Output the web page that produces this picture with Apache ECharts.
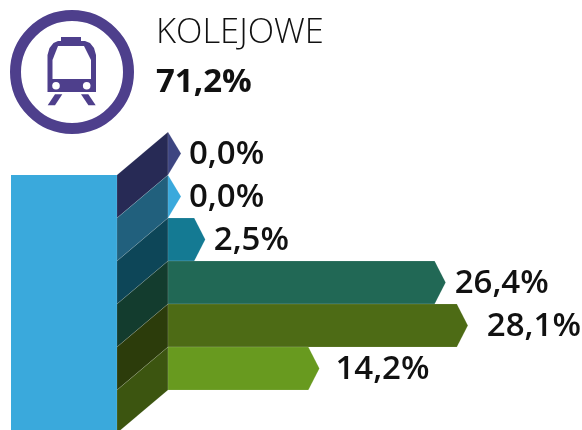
<!DOCTYPE html>
<html><head><meta charset="utf-8">
<style>html,body{margin:0;padding:0;background:#fff}#c{width:582px;height:430px}</style>
<script src="https://cdn.jsdelivr.net/npm/echarts@6/dist/echarts.min.js"></script></head>
<body><div id="c"></div>
<script>
const categories = ['a','b','c','d','e','f'];
const valueLabels = ['0,0%','0,0%','2,5%','26,4%','28,1%','14,2%'];
const barLengths = [0.0, 0.0, 2.6, 26.4, 28.6, 13.9];
const title = 'KOLEJOWE';
const totalLabel = '71,2%';
const barColors = ['#3d4581','#3aa9dc','#147a93','#216855','#4d6b15','#689a1f'];
const sideColors = ['#272a55','#21607d','#0d4658','#133c2e','#2c3c0b','#3c5510'];
const labelGaps = [8, 8, 8.5, 9, 19, 16];
const FONT = '"Open Sans"';
const ICON = '#4e3f8c';
const chart = echarts.init(document.getElementById('c'), null, {renderer:'canvas'});
const poly=(points,fill)=>({type:'polygon',shape:{points},style:{fill}});
chart.setOption({
  animation:false,
  grid:{left:168,top:132,width:404,height:258,containLabel:false},
  xAxis:{type:'value',min:0,max:40,show:false},
  yAxis:{type:'category',data:categories,inverse:true,show:false},
  graphic:[
    {type:'circle',shape:{cx:72,cy:72,r:56.5},style:{fill:'none',stroke:ICON,lineWidth:11}},
    poly([[61,37],[81,37],[81,41],[85,41],[90,43],[94,48],[96,55],[96,92],[47.5,92],[47.5,55],[49.5,48],[53.5,43],[58,41],[61,41]],ICON),
    poly([[58,46],[84,46],[91,60],[91,79],[52.5,79],[52.5,60]],'#fff'),
    {type:'circle',shape:{cx:56,cy:85.7,r:3.8},style:{fill:'#fff'}},
    {type:'circle',shape:{cx:86.7,cy:85.7,r:3.8},style:{fill:'#fff'}},
    poly([[55,94.3],[62.3,94.3],[55,105.3],[47.7,105.3]],ICON),
    poly([[81,94.3],[88.3,94.3],[95.7,105.3],[88.4,105.3]],ICON),
    {type:'text',x:156,y:33.5,style:{text:title,font:'300 34.5px '+FONT,fill:'#111',verticalAlign:'middle'}},
    {type:'text',x:156,y:83,style:{text:totalLabel,font:'700 33px '+FONT,fill:'#111',verticalAlign:'middle'}},
    {type:'rect',shape:{x:11,y:175,width:106,height:255},style:{fill:'#3aa9dc'}}
  ],
  series:[{
    type:'custom',
    coordinateSystem:'cartesian2d',
    data:barLengths.map((v,i)=>[v,i]),
    encode:{x:0,y:1},
    clip:false,
    renderItem(params,api){
      const i=api.value(1), v=api.value(0);
      const p=api.coord([v,i]), o=api.coord([0,i]);
      const h=api.size([0,1])[1];
      const top=p[1]-h/2, bot=p[1]+h/2, x0=o[0], x1=p[0], dx=51, tip=v>0?11:13;
      return {type:'group',children:[
        {type:'polygon',shape:{points:[[x0-dx,top+h],[x0,top],[x0,bot],[x0-dx,bot+h]]},
         style:{fill:sideColors[i],stroke:'rgba(255,255,255,0.2)',lineWidth:0.6}},
        {type:'polygon',shape:{points:[[x0,top],[x1,top],[x1+tip,p[1]],[x1,bot],[x0,bot]]},
         style:{fill:barColors[i],stroke:'rgba(255,255,255,0.2)',lineWidth:0.6}},
        {type:'text',x:x1+tip+labelGaps[i],y:p[1]+1,
         style:{text:valueLabels[i],font:'600 33px '+FONT,fill:'#111',verticalAlign:'middle'}}
      ]};
    }
  }]
});
</script></body></html>
